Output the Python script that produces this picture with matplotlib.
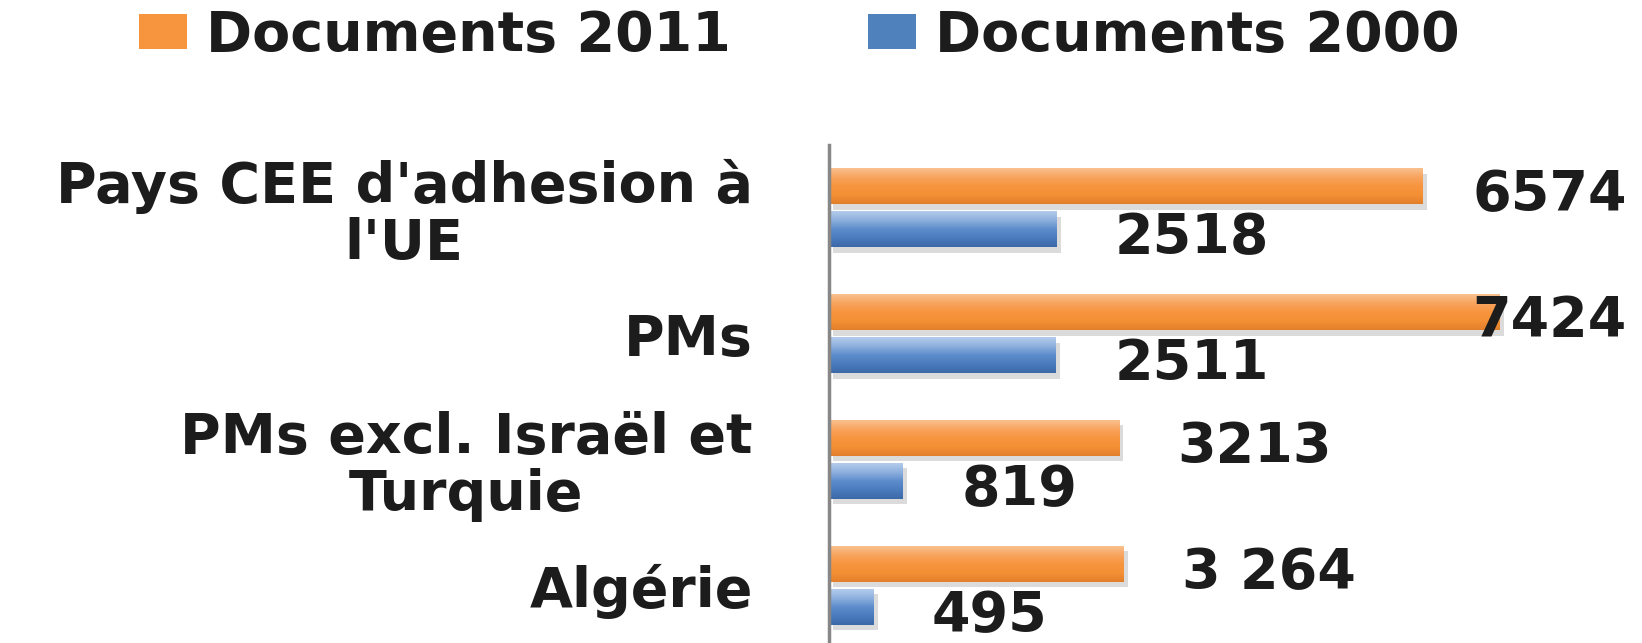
import numpy as np
import matplotlib
matplotlib.use("Agg")
import matplotlib.pyplot as plt
import matplotlib.patheffects as pe
from matplotlib.colors import LinearSegmentedColormap
from matplotlib.patches import Patch

categories = ["Pays CEE d'adhesion à\nl'UE", "PMs", "PMs excl. Israël et\nTurquie", "Algérie"]
docs_2011 = [6574, 7424, 3213, 3264]
docs_2000 = [2518, 2511, 819, 495]
labels_2011 = ["6574", "7424", "3213", "3 264"]
labels_2000 = ["2518", "2511", "819", "495"]

plt.rcParams['font.family'] = ['DejaVu Sans']
FS = 40
TXT = '#1c1c1c'

orange_cmap = LinearSegmentedColormap.from_list(
    'org', ['#f9c08e', '#f8a45e', '#f7953f', '#f49034', '#e27f2c'])
blue_cmap = LinearSegmentedColormap.from_list(
    'blu', ['#b3cbea', '#8eb0de', '#5d8ccb', '#4a7bbd', '#3c69a8'])

fig = plt.figure(figsize=(16.42, 6.43), dpi=100)
W, H = 1642, 643
ax = fig.add_axes([829 / W, -5 / H, (W - 829) / W, 503 / H])

y = np.arange(len(categories))
h = 0.286
off = 0.171

bars_o = ax.barh(y - off, docs_2011, height=h, color='#f7953f', zorder=2)
bars_b = ax.barh(y + off, docs_2000, height=h, color='#4f81bd', zorder=2)

# soft drop shadow + vertical gradient on every bar
grad = np.linspace(0, 1, 64).reshape(-1, 1)
for bars, cmap in ((bars_o, orange_cmap), (bars_b, blue_cmap)):
    for b in bars:
        b.set_path_effects([pe.SimplePatchShadow(offset=(3, -4), shadow_rgbFace='#888888', alpha=0.3),
                            pe.Normal()])
        x0, y0 = b.get_x(), b.get_y()
        im = ax.imshow(grad, cmap=cmap, aspect='auto', origin='upper',
                       extent=(x0, x0 + b.get_width(), y0 + b.get_height(), y0), zorder=3)
        im.set_clip_path(b)

ax.set_xlim(0, 9000)
ax.set_ylim(3.5, -0.5)

for s in ('top', 'right', 'bottom'):
    ax.spines[s].set_visible(False)
ax.spines['left'].set_color('#878787')
ax.spines['left'].set_linewidth(2.5)
ax.spines['left'].set_zorder(5)
ax.xaxis.set_visible(False)
ax.set_yticks(y)
ax.set_yticklabels(categories, fontsize=FS, fontweight='bold', color=TXT, linespacing=1.06)
ax.tick_params(axis='y', length=0, pad=55)
for lbl in ax.get_yticklabels():
    lbl.set_multialignment('center')

# value labels, pulled back inside the figure where they would run off the edge
dy = -6.5
texts = []
for vals, labs, yy in ((docs_2011, labels_2011, y - off), (docs_2000, labels_2000, y + off)):
    for v, lab, yp in zip(vals, labs, yy):
        t = ax.annotate(lab, (v, yp), xytext=(42, dy), textcoords='offset points',
                        ha='left', va='center', fontsize=FS, fontweight='bold', color=TXT,
                        annotation_clip=False, zorder=6)
        texts.append(t)

fig.canvas.draw()
r = fig.canvas.get_renderer()
limit = 1627
for t in texts:
    bb = t.get_window_extent(r)
    if bb.x1 > limit:
        t.set_position((t.get_position()[0] - (bb.x1 - limit) * 72 / fig.dpi, dy))

handles = [Patch(facecolor='#f7953f', label='Documents 2011'),
           Patch(facecolor='#4f81bd', label='Documents 2000')]
fig.legend(handles=handles, loc='center left', bbox_to_anchor=(139 / W, 1 - 36 / H), ncol=2,
           frameon=False, prop={'size': FS, 'weight': 'bold'}, labelcolor=TXT,
           handlelength=0.86, handleheight=0.58, handletextpad=0.34, columnspacing=2.48,
           borderaxespad=0, borderpad=0)

fig.savefig('out.png', dpi=100, facecolor='white')
